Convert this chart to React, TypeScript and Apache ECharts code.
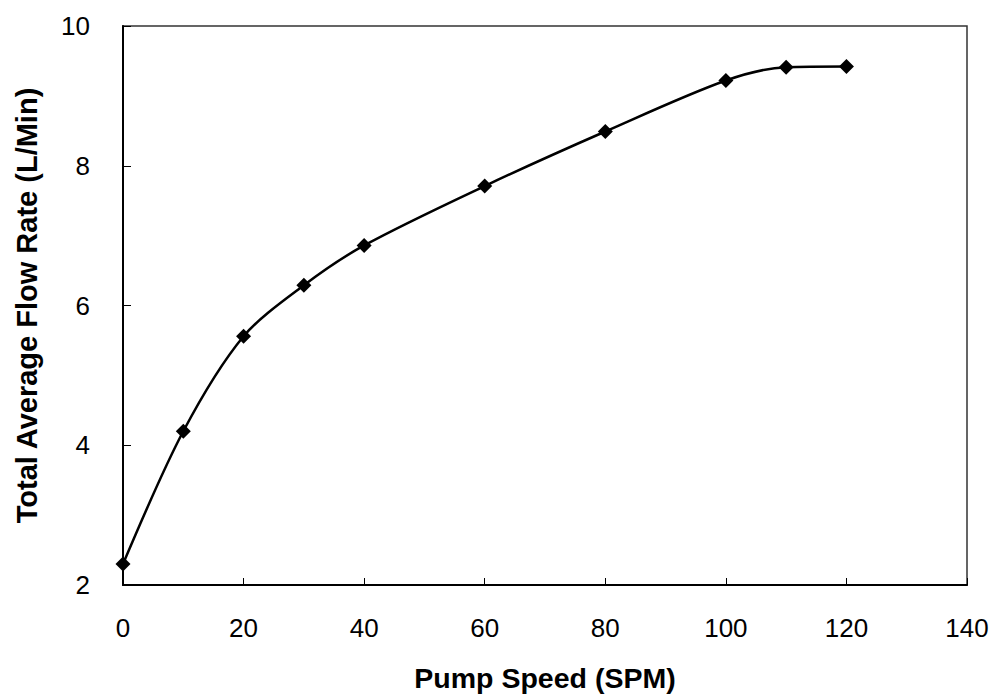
import React, { useEffect, useRef } from "react";
import * as echarts from "echarts";

const pumpSpeed = [0, 10, 20, 30, 40, 60, 80, 100, 110, 120];
const flowRate = [2.3, 4.2, 5.56, 6.29, 6.86, 7.71, 8.49, 9.22, 9.41, 9.42];
const xTitle = "Pump Speed (SPM)";
const yTitle = "Total Average Flow Rate (L/Min)";

export default function App() {
  const ref = useRef<HTMLDivElement>(null);
  useEffect(() => {
    if (!ref.current) return;
    const chart = echarts.init(ref.current, undefined, { renderer: "svg" });
    const font = "Liberation Sans, Arial, sans-serif";
    chart.setOption({
      animation: false,
      backgroundColor: "#ffffff",
      grid: {
        left: 123,
        right: 27,
        top: 26,
        bottom: 106,
        show: true,
        borderColor: "#333",
        borderWidth: 1.5,
      },
      xAxis: {
        type: "value",
        min: 0,
        max: 140,
        interval: 20,
        name: xTitle,
        nameLocation: "middle",
        nameGap: 78,
        nameTextStyle: { fontFamily: font, fontSize: 28.5, fontWeight: "bold", color: "#000" },
        axisLine: { show: true, onZero: false, lineStyle: { color: "#000", width: 2 } },
        axisTick: { show: true, inside: true, length: 7, lineStyle: { color: "#000", width: 1 } },
        axisLabel: { fontFamily: font, fontSize: 26, color: "#000", margin: 30 },
        splitLine: { show: false },
      },
      yAxis: {
        type: "value",
        min: 2,
        max: 10,
        interval: 2,
        name: yTitle,
        nameLocation: "middle",
        nameGap: 82,
        nameRotate: 90,
        nameTextStyle: { fontFamily: font, fontSize: 29, fontWeight: "bold", color: "#000" },
        axisLine: { show: true, onZero: false, lineStyle: { color: "#000", width: 2 } },
        axisTick: { show: true, inside: true, length: 8, lineStyle: { color: "#000", width: 1 } },
        axisLabel: { fontFamily: font, fontSize: 26, color: "#000", margin: 33 },
        splitLine: { show: false },
      },
      series: [
        {
          type: "line",
          data: pumpSpeed.map((x, i) => [x, flowRate[i]]),
          smooth: 0.3,
          symbol: "diamond",
          symbolSize: 15,
          itemStyle: { color: "#000" },
          lineStyle: { color: "#000", width: 2.5 },
        },
      ],
    });
    return () => chart.dispose();
  }, []);
  return (
    <div
      ref={ref}
      style={{ position: "fixed", left: 0, top: 0, width: 994, height: 697, background: "#fff" }}
    />
  );
}
